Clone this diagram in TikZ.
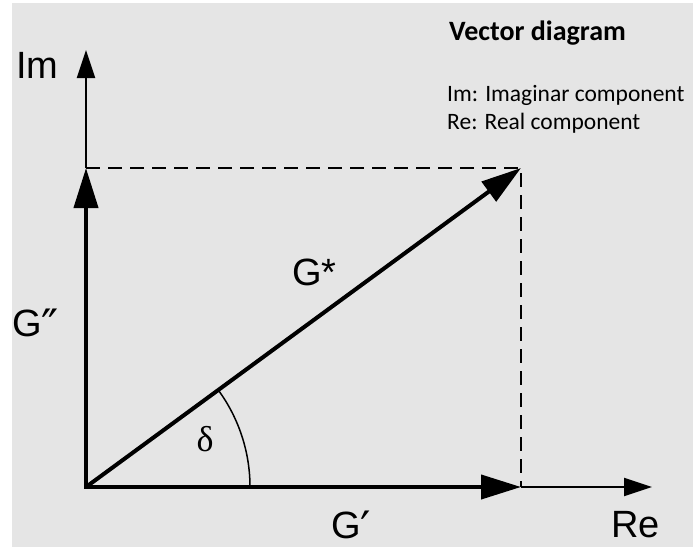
\documentclass[tikz,border=0pt]{standalone}
\usepackage{fontspec}
\setmainfont{Liberation Sans}
\newfontfamily\calibri{Carlito}
\newfontfamily\serifg{Liberation Serif}
\newfontfamily\dv{DejaVu Sans}
\usetikzlibrary{arrows.meta}
\definecolor{bgc}{RGB}{229,229,229}
\newcommand{\bigprime}[1]{\smash{\raisebox{-6pt}{\dv\fontsize{46}{46}\selectfont #1}}}
\begin{document}
\begin{tikzpicture}[x=1pt,y=-1pt,
  thickvec/.style={line width=4pt,line cap=rect,-{Triangle[length=40pt,width=24pt]}},
  axisline/.style={line width=2pt,-{Triangle[length=28pt,width=18pt]}},
  guide/.style={line width=2pt,dash pattern=on 14pt off 8pt},
  lbl/.style={inner sep=0pt,anchor=base west,text depth=0pt,font=\fontsize{38}{40}\selectfont},
  note/.style={inner sep=0pt,anchor=base west,font=\calibri\fontsize{23.5}{28}\selectfont}]
\useasboundingbox (0,0) rectangle (693,549);
\fill[white] (0,0) rectangle (693,549);
\fill[bgc] (12,3) rectangle (693,547);
\coordinate (O) at (86,487);
\coordinate (P) at (521,168);
\coordinate (Y) at (86,168);
\coordinate (X) at (521,487);
\coordinate (Ytop) at (86,50);
\coordinate (Xend) at (652,487);
\draw[axisline] (Y) -- (Ytop);
\draw[axisline] (X) -- (Xend);
\draw[guide] (Y) -- (P) -- (X);
\draw[line width=1.5pt] (250,487) arc[start angle=0,end angle=-36.25,radius=164];
\draw[thickvec] (O) -- (Y);
\draw[thickvec] (O) -- (X);
\draw[thickvec,line cap=round] (O) -- (P);
\node[lbl] (im) at (16,78) {Im};
\node[lbl] (re) at (611,537) {Re};
\node[lbl] (gpp) at (12,336) {G\bigprime{″}};
\node[lbl] (gs) at (292,285) {G*};
\node[lbl] (gp) at (331,538) {G\bigprime{′}};
\node[inner sep=0pt,font=\serifg\fontsize{36}{38}\selectfont] (delta) at (205,439) {δ};
\node[note,font=\calibri\bfseries\fontsize{28}{30}\selectfont] (title) at (449,40) {Vector diagram};
\node[note] (l1) at (447,101) {Im: Imaginar component};
\node[note] (l2) at (447,129) {Re: Real component};
\end{tikzpicture}
\end{document}
